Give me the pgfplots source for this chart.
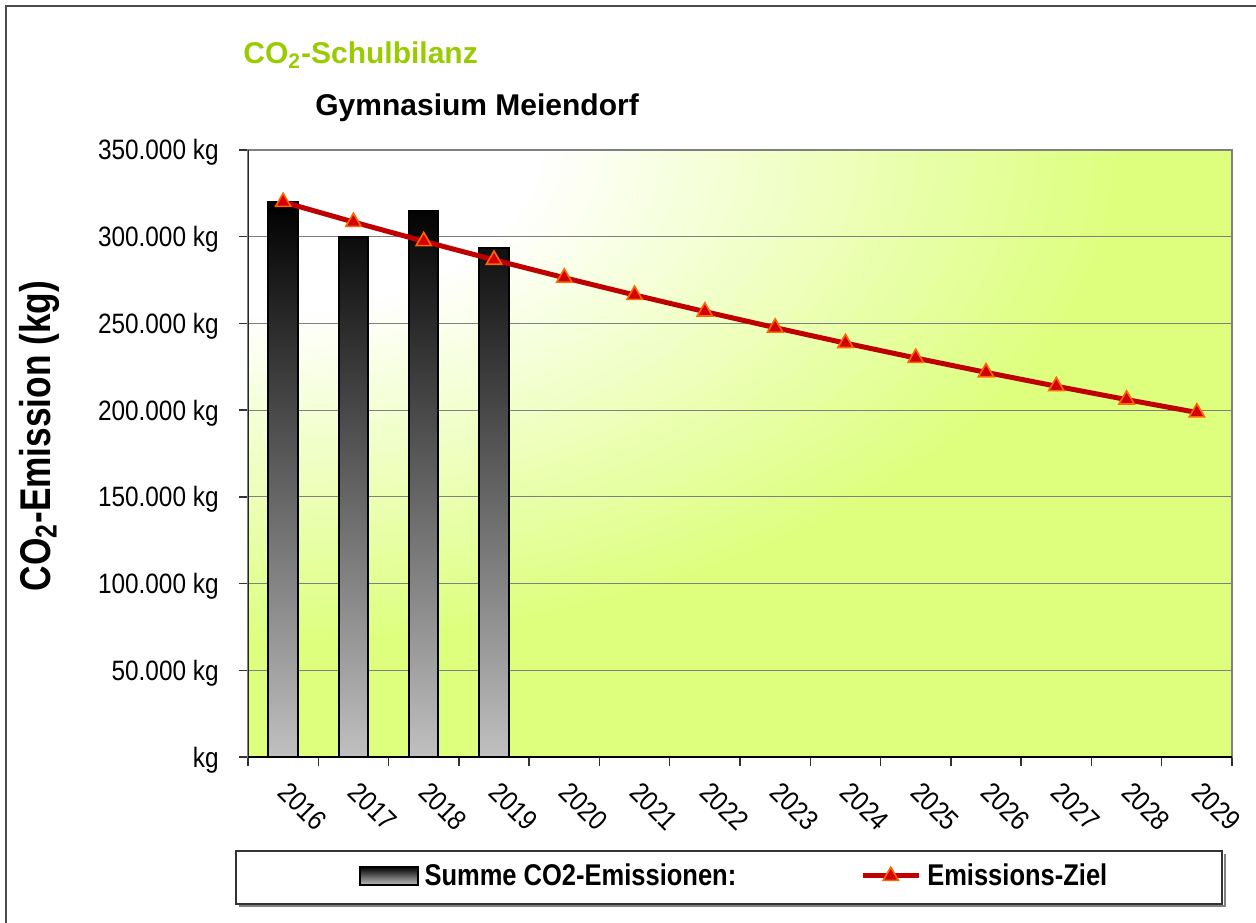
\documentclass[border=0pt]{standalone}
\usepackage{fontspec}
\setmainfont{Liberation Sans}
\newfontfamily\condA[FakeStretch=0.87]{Liberation Sans}
\newfontfamily\condB[FakeStretch=0.85]{Liberation Sans}
\newfontfamily\condC[FakeStretch=0.82]{Liberation Sans}
\usepackage{pgfplots}
\pgfplotsset{compat=1.18}
\definecolor{limebg}{RGB}{221,255,125}
\definecolor{titlegreen}{RGB}{153,204,0}
\definecolor{linered}{RGB}{192,0,0}
\definecolor{markred}{RGB}{210,0,0}
\definecolor{markorange}{RGB}{255,102,0}
\definecolor{bargray}{RGB}{192,192,192}
\definecolor{gridgray}{RGB}{128,128,128}
\pgfplotsset{
  linelegend/.style={legend image code/.code={\draw[mark repeat=2, mark phase=2, ##1] plot coordinates {(0pt,0pt) (14pt,0pt) (28pt,0pt)};}},
  barlegend/.style={legend image code/.code={\draw[draw=black, line width=0.8pt, top color=black, bottom color=bargray] (0pt,-4.5pt) rectangle (29pt,4.5pt);}},
}
\begin{document}
\begin{tikzpicture}
\useasboundingbox (0,0) rectangle (628pt,461pt);
\draw[gray!60!black, line width=1pt] (3pt,-10pt) -- (3pt,458pt) -- (640pt,458pt);
% legend frame
\draw[gray, line width=1.2pt] (119.5pt,8pt) -- (612.5pt,8pt) -- (612.5pt,34pt);
\draw[black!80, line width=0.6pt, fill=white] (118pt,9pt) rectangle (611pt,35.5pt);
% titles
\node[anchor=base west, inner sep=0pt, text=titlegreen, font=\bfseries\fontsize{15}{18}\selectfont] at (121.5pt,429.3pt) {CO\textsubscript{2}-Schulbilanz};
\node[anchor=base west, inner sep=0pt, font=\bfseries\fontsize{15}{18}\selectfont] at (157.5pt,403pt) {Gymnasium Meiendorf};
\node[anchor=base, rotate=90, inner sep=0pt, font=\condC\bfseries\fontsize{21.5}{24}\selectfont] at (25pt,243pt) {CO\textsubscript{2}-Emission (kg)};
\begin{axis}[
  at={(124pt,82.5pt)}, anchor=south west,
  width=492pt, height=303.5pt, scale only axis,
  xmin=-0.5, xmax=13.5, ymin=0, ymax=350000,
  axis background/.style={fill=limebg, path picture={%
    \foreach \r in {90,88,...,30} {%
      \pgfmathsetmacro\f{(\r-30)/60*100}%
      \fill[limebg!\f!white] (path picture bounding box.north west) ellipse [x radius=\r*4.92pt, y radius=\r*2.79pt];
    }}},
  xtick={-0.5,0.5,...,13.5}, xticklabels={,,,,,,,,,,,,,,,},
  extra x ticks={0,1,2,3,4,5,6,7,8,9,10,11,12,13},
  extra x tick labels={2016,2017,2018,2019,2020,2021,2022,2023,2024,2025,2026,2027,2028,2029},
  extra x tick style={major tick length=0pt, grid=none},
  xticklabel style={rotate=-45, anchor=west, inner sep=0pt, font=\condA\fontsize{14}{16}\selectfont},
  xticklabel shift=15pt,
  ytick={0,50000,100000,150000,200000,250000,300000,350000},
  yticklabels={kg,50.000 kg,100.000 kg,150.000 kg,200.000 kg,250.000 kg,300.000 kg,350.000 kg},
  scaled y ticks=false,
  yticklabel style={anchor=base east, inner sep=0pt, yshift=-5pt, font=\condA\fontsize{14}{16}\selectfont},
  yticklabel shift=10pt,
  ymajorgrids, grid style={draw=gridgray, line width=0.5pt},
  tick align=outside, major tick length=4.5pt, tick pos=left,
  tick style={draw=black!80, line width=0.75pt},
  axis line style={draw=gridgray, line width=1pt},
  legend columns=2,
  legend style={at={(0.493,-0.196)}, anchor=center, draw=none, fill=none,
    nodes={inner sep=0pt, font=\condB\bfseries\fontsize{15}{18}\selectfont},
    /tikz/every odd column/.append style={column sep=3pt},
    /tikz/every even column/.append style={column sep=62pt}},
]
\addplot[ybar, bar width=14.75pt, bar shift=0pt, draw=black, line width=1pt,
  top color=black, bottom color=bargray, barlegend]
  coordinates {(0,320000) (1,300000) (2,315000) (3,293500)};
\addlegendentry{Summe CO2-Emissionen:}
\addplot[linered, line width=2.5pt, mark=triangle*, mark size=4.4pt,
  mark options={fill=markred, draw=markorange, line width=0.8pt, solid}, linelegend]
  coordinates {(0,320000) (1,308480) (2,297375) (3,286670) (4,276350) (5,266400) (6,256810) (7,247565) (8,238650) (9,230060) (10,221780) (11,213790) (12,206090) (13,198670)};
\addlegendentry{Emissions-Ziel}
\draw[black, line width=1pt] (rel axis cs:0,0) -- (rel axis cs:1,0);
\draw[black!85, line width=1pt] (rel axis cs:0,0) -- (rel axis cs:0,1);
\end{axis}
\end{tikzpicture}
\end{document}
